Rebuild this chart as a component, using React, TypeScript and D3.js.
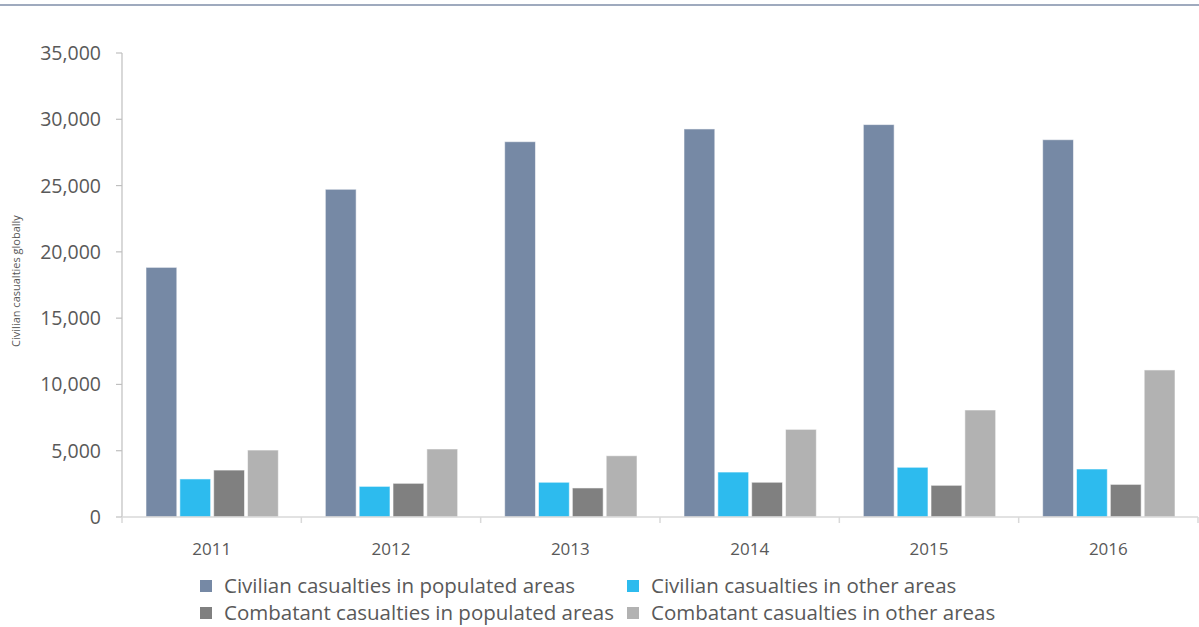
import * as d3 from 'd3';

const years = ['2011', '2012', '2013', '2014', '2015', '2016'];
const seriesNames = [
  'Civilian casualties in populated areas',
  'Civilian casualties in other areas',
  'Combatant casualties in populated areas',
  'Combatant casualties in other areas',
];
const civilianPopulated = [18830, 24720, 28310, 29270, 29600, 28460];
const civilianOther = [2870, 2310, 2620, 3390, 3750, 3620];
const combatantPopulated = [3540, 2540, 2190, 2620, 2390, 2460];
const combatantOther = [5050, 5130, 4620, 6610, 8070, 11090];
const yTicks = [0, 5000, 10000, 15000, 20000, 25000, 30000, 35000];
const colors = ['#7689a5', '#2dbbee', '#808080', '#b2b2b2'];

const W = 1199;
const H = 627;
const FONT = '"Open Sans", "Noto Sans", sans-serif';

export default function App() {
  const series = [civilianPopulated, civilianOther, combatantPopulated, combatantOther];
  const left = 122;
  const right = 1198;
  const top = 53;
  const bottom = 517;

  const x0 = d3.scaleBand<string>().domain(years).range([left, right]);
  const x1 = d3
    .scaleBand<number>()
    .domain(d3.range(series.length))
    .range([24, x0.bandwidth() - 23])
    .paddingInner(0.09);
  const y = d3.scaleLinear().domain([0, 35000]).range([bottom, top]);
  const fmt = d3.format(',');

  const boundaries = [...years.map((yr) => x0(yr)!), right];

  return (
    <svg
      width={W}
      height={H}
      style={{ position: 'absolute', left: 0, top: 0, background: '#fff' }}
      fontFamily={FONT}
    >
      {/* top rule */}
      <line x1={0} x2={W} y1={5} y2={5} stroke="#7f8ea8" strokeWidth={1.5} />

      {/* bars */}
      {years.map((yr, i) => (
        <g key={yr} transform={`translate(${x0(yr)},0)`}>
          {series.map((s, j) => (
            <rect
              key={j}
              x={x1(j)}
              y={y(s[i])}
              width={x1.bandwidth()}
              height={y(0) - y(s[i])}
              fill={colors[j]}
              stroke="#ffffff"
              strokeOpacity={0.55}
              strokeWidth={1}
            />
          ))}
        </g>
      ))}

      {/* y axis */}
      <line x1={left} x2={left} y1={top} y2={bottom} stroke="#bfbfbf" strokeWidth={1.2} />
      {yTicks.map((t) => (
        <g key={t}>
          <line x1={left - 6} x2={left} y1={y(t)} y2={y(t)} stroke="#bfbfbf" strokeWidth={1.2} />
          <text
            x={101}
            y={y(t)}
            dy="0.36em"
            textAnchor="end"
            fontSize={19.5}
            fill="#595959"
          >
            {fmt(t)}
          </text>
        </g>
      ))}
      <text
        transform={`translate(20,281) rotate(-90)`}
        textAnchor="middle"
        fontSize={11}
        fill="#595959"
      >
        Civilian casualties globally
      </text>

      {/* x axis */}
      <line x1={left} x2={right} y1={bottom} y2={bottom} stroke="#d9d9d9" strokeWidth={1.5} />
      {boundaries.map((b, i) => (
        <line key={i} x1={b} x2={b} y1={bottom} y2={bottom + 6} stroke="#d9d9d9" strokeWidth={1.5} />
      ))}
      {years.map((yr) => (
        <text
          key={yr}
          x={x0(yr)! + x0.bandwidth() / 2}
          y={549}
          dy="0.36em"
          textAnchor="middle"
          fontSize={17}
          fill="#595959"
        >
          {yr}
        </text>
      ))}

      {/* legend */}
      {seriesNames.map((name, j) => {
        const lx = j % 2 === 0 ? 200 : 627;
        const ly = j < 2 ? 586 : 613;
        return (
          <g key={name}>
            <rect x={lx} y={ly - 6} width={12} height={12} fill={colors[j]} />
            <text x={lx + 24} y={ly} dy="0.36em" fontSize={20.5} fill="#595959">
              {name}
            </text>
          </g>
        );
      })}
    </svg>
  );
}
